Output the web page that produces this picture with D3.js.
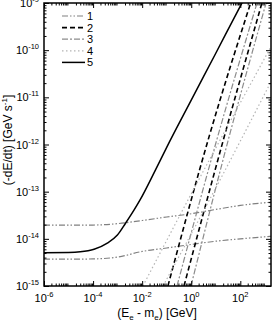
<!DOCTYPE html>
<html>
<head>
<meta charset="utf-8">
<script src="https://cdn.jsdelivr.net/npm/d3@7"></script>
<style>
  body { margin: 0; background: #fff; }
  text { font-family: "Liberation Sans", Arial, sans-serif; }
</style>
</head>
<body>
<div id="chart"></div>
<script>
// tick labels
const xTickValues = [1e-6, 1e-4, 1e-2, 1, 1e2];
const xTickExps = ["-6", "-4", "-2", "0", "2"];
const yTickValues = [1e-15, 1e-14, 1e-13, 1e-12, 1e-11, 1e-10, 1e-9];
const yTickExps = ["-15", "-14", "-13", "-12", "-11", "-10", "-9"];
const legendLabels = ["1", "2", "3", "4", "5"];

// series 1 : two nearly flat curves
const s1High = [[1e-6, 1.95e-14], [1e-5, 1.95e-14], [1e-4, 1.96e-14], [1e-3, 2.1e-14], [1e-2, 2.45e-14],
  [0.1, 2.9e-14], [1, 3.4e-14], [10, 4.2e-14], [100, 5.1e-14], [1800, 6.0e-14]];
const s1Low = [[1e-6, 3.7e-15], [1e-5, 3.7e-15], [1e-4, 3.75e-15], [1e-3, 4.1e-15], [1e-2, 5.4e-15],
  [0.1, 6.4e-15], [1, 7.6e-15], [10, 8.9e-15], [100, 1.0e-14], [1800, 1.13e-14]];
// series 2 : dashed
const s2A = [[0.112, 1e-15], [5.6, 1.6e-12], [263, 1e-9]];
const s2B = [[0.507, 1e-15], [20.4, 1.26e-12], [759, 1e-9]];
// series 3 : dash-dot
const s3A = [[0.263, 1e-15], [11, 1.26e-12], [479, 1e-9]];
const s3B = [[0.977, 1e-15], [32.4, 1.26e-12], [1122, 1e-9]];
// series 4 : dotted
const s4A = [[0.0107, 1e-15], [1, 9e-14], [1800, 1.2e-10]];
const s4B = [[0.0708, 1e-15], [10, 1.2e-13], [1905, 2.3e-11]];
// series 5 : solid
const s5 = [[1e-6, 5.1e-15], [1e-5, 5.15e-15], [3e-5, 5.3e-15], [1.1e-4, 6.0e-15], [3.8e-4, 8.1e-15],
  [9.8e-4, 1.2e-14], [2.1e-3, 2.14e-14], [4.7e-3, 4.1e-14], [8.1e-3, 6.6e-14], [0.035, 2.9e-13],
  [0.1, 8.7e-13], [1, 8.7e-12], [10, 8.6e-11], [100, 8.6e-10], [200, 1.7e-9]];

const styles = [
  { color: "#808080", dash: "6,2,1.5,2,1.5,2", width: 1.2 },
  { color: "#000", dash: "5,3", width: 1.6 },
  { color: "#8c8c8c", dash: "6,2,2,2", width: 1.2 },
  { color: "#b4b4b4", dash: "1.5,2.5", width: 1.2 },
  { color: "#000", dash: null, width: 1.5 }
];
const curves = [
  { data: s1High, s: 0 }, { data: s1Low, s: 0 },
  { data: s2A, s: 1 }, { data: s2B, s: 1 },
  { data: s3A, s: 2 }, { data: s3B, s: 2 },
  { data: s4A, s: 3 }, { data: s4B, s: 3 },
  { data: s5, s: 4 }
];

const W = 273, H = 327;
const margin = { top: 3, right: 2, bottom: 41, left: 44 };
const iw = W - margin.left - margin.right;
const ih = H - margin.top - margin.bottom;

const svg = d3.select("#chart").append("svg")
  .attr("width", W).attr("height", H);
const g = svg.append("g")
  .attr("transform", `translate(${margin.left},${margin.top})`);

const x = d3.scaleLog().domain([1e-6, Math.pow(10, 3.25)]).range([0, iw]);
const y = d3.scaleLog().domain([1e-15, 1e-9]).range([ih, 0]);

// minor tick values
const xMinor = [], yMinor = [];
for (let e = -6; e <= 3; e++) for (let k = 2; k <= 9; k++) {
  const v = k * Math.pow(10, e);
  if (v < x.domain()[1]) xMinor.push(v);
}
for (let e = -15; e < -9; e++) for (let k = 2; k <= 9; k++) yMinor.push(k * Math.pow(10, e));

g.append("defs").append("clipPath").attr("id", "clip")
  .append("rect").attr("width", iw).attr("height", ih);

// curves
const line = d3.line().x(d => x(d[0])).y(d => y(d[1])).curve(d3.curveMonotoneX);
g.append("g").attr("clip-path", "url(#clip)")
  .selectAll("path").data(curves).enter().append("path")
  .attr("d", d => line(d.data))
  .attr("fill", "none")
  .attr("stroke", d => styles[d.s].color)
  .attr("stroke-width", d => styles[d.s].width)
  .attr("stroke-dasharray", d => styles[d.s].dash);

// ticks pointing inwards on all four sides
function ticks(axis, vals, size, transform) {
  const a = g.append("g").attr("transform", transform)
    .call(axis.tickValues(vals).tickSize(-size).tickFormat(""));
  a.select(".domain").remove();
  a.selectAll("line").attr("stroke", "#000").attr("stroke-width", 1);
}
ticks(d3.axisBottom(x), xTickValues, 5, `translate(0,${ih})`);
ticks(d3.axisBottom(x), xMinor, 2.5, `translate(0,${ih})`);
ticks(d3.axisTop(x), xTickValues, 5, "translate(0,0)");
ticks(d3.axisTop(x), xMinor, 2.5, "translate(0,0)");
ticks(d3.axisLeft(y), yTickValues, 5, "translate(0,0)");
ticks(d3.axisLeft(y), yMinor, 2.5, "translate(0,0)");
ticks(d3.axisRight(y), yTickValues, 5, `translate(${iw},0)`);
ticks(d3.axisRight(y), yMinor, 2.5, `translate(${iw},0)`);

g.append("rect").attr("width", iw).attr("height", ih)
  .attr("fill", "none").attr("stroke", "#000").attr("stroke-width", 1.5);

// tick labels: 10 with superscript
xTickValues.forEach((v, i) => {
  const t = g.append("text").attr("x", x(v)).attr("y", ih + 16)
    .attr("text-anchor", "middle").attr("font-size", 11);
  t.append("tspan").text("10");
  t.append("tspan").attr("font-size", 7.5).attr("dy", -5).text(xTickExps[i]);
});
yTickValues.forEach((v, i) => {
  const t = g.append("text").attr("x", -5).attr("y", y(v) + 4)
    .attr("text-anchor", "end").attr("font-size", 11);
  t.append("tspan").text("10");
  t.append("tspan").attr("font-size", 7.5).attr("dy", -5).text(yTickExps[i]);
});

// axis titles
const xt = svg.append("text").attr("x", 157).attr("y", 317)
  .attr("text-anchor", "middle").attr("font-size", 12);
xt.append("tspan").text("(E");
xt.append("tspan").attr("font-size", 8).attr("dy", 3).text("e");
xt.append("tspan").attr("dy", -3).text(" - m");
xt.append("tspan").attr("font-size", 8).attr("dy", 3).text("e");
xt.append("tspan").attr("dy", -3).text(") [GeV]");

const yt = svg.append("text").attr("transform", "translate(12,140) rotate(-90)")
  .attr("text-anchor", "middle").attr("font-size", 12);
yt.append("tspan").text("(-dE/dt)  [GeV s");
yt.append("tspan").attr("font-size", 8).attr("dy", -5).text("-1");
yt.append("tspan").attr("dy", 5).text("]");

// legend
const leg = svg.append("g").attr("transform", "translate(62,16)");
legendLabels.forEach((lab, i) => {
  const row = leg.append("g").attr("transform", `translate(0,${i * 11.6})`);
  row.append("line").attr("x1", 0).attr("x2", 23).attr("y1", 0).attr("y2", 0)
    .attr("stroke", styles[i].color).attr("stroke-width", styles[i].width)
    .attr("stroke-dasharray", styles[i].dash);
  row.append("text").attr("x", 25).attr("y", 4).attr("font-size", 11).text(lab);
});
</script>
</body>
</html>
